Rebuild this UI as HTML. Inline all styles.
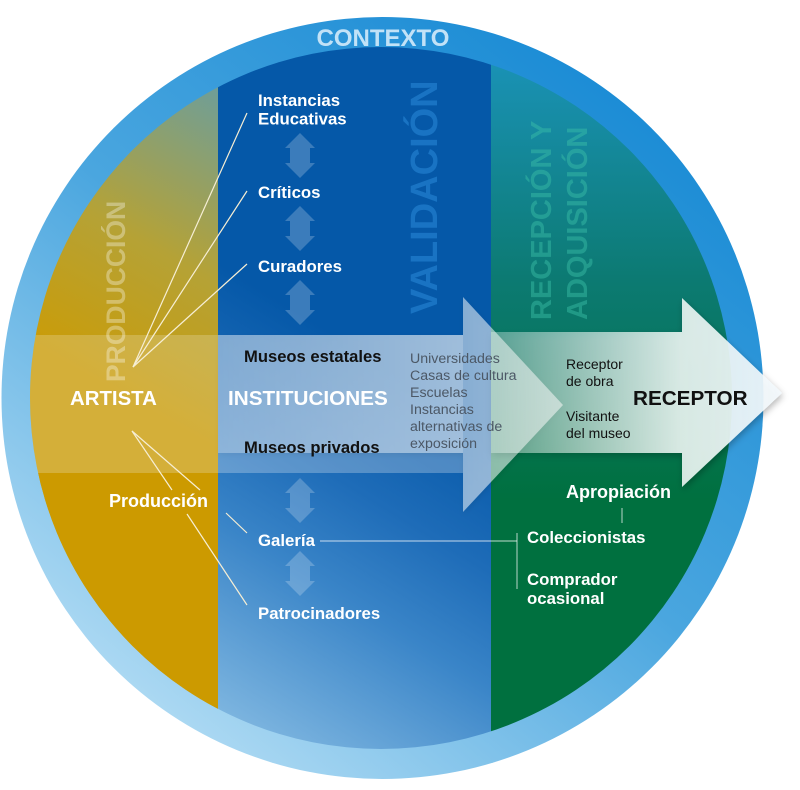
<!DOCTYPE html>
<html>
<head>
<meta charset="utf-8">
<style>
html,body{margin:0;padding:0;background:#fff;}
svg{display:block;}
text{font-family:"Liberation Sans",Arial,sans-serif;}
.b{font-weight:bold;}
</style>
</head>
<body>
<svg width="800" height="790" viewBox="0 0 800 790" xmlns="http://www.w3.org/2000/svg">
<defs>
  <linearGradient id="ring" x1="0.85" y1="0.05" x2="0.15" y2="0.95">
    <stop offset="0" stop-color="#1689d4"/>
    <stop offset="0.5" stop-color="#4aa6df"/>
    <stop offset="1" stop-color="#b8dff5"/>
  </linearGradient>
  <linearGradient id="gold" gradientUnits="userSpaceOnUse" x1="218" y1="80" x2="60" y2="360">
    <stop offset="0" stop-color="#6c9e9c"/>
    <stop offset="0.55" stop-color="#b5a236"/>
    <stop offset="1" stop-color="#ca9c08"/>
  </linearGradient>
  <linearGradient id="blue" gradientUnits="userSpaceOnUse" x1="440" y1="400" x2="230" y2="740">
    <stop offset="0" stop-color="#0558a8"/>
    <stop offset="0.3" stop-color="#1e6cb8"/>
    <stop offset="0.55" stop-color="#3a85c8"/>
    <stop offset="1" stop-color="#84bae2"/>
  </linearGradient>
  <linearGradient id="green" gradientUnits="userSpaceOnUse" x1="0" y1="60" x2="0" y2="500">
    <stop offset="0" stop-color="#1a92b6"/>
    <stop offset="0.5" stop-color="#0c7a72"/>
    <stop offset="1" stop-color="#00703f"/>
  </linearGradient>
  <linearGradient id="a1" gradientUnits="userSpaceOnUse" x1="218" y1="0" x2="563" y2="0">
    <stop offset="0" stop-color="#fff" stop-opacity="0.32"/>
    <stop offset="1" stop-color="#fff" stop-opacity="0.58"/>
  </linearGradient>
  <linearGradient id="a2" gradientUnits="userSpaceOnUse" x1="491" y1="0" x2="782" y2="0">
    <stop offset="0" stop-color="#f4fbf8" stop-opacity="0.3"/>
    <stop offset="0.65" stop-color="#f4fbf8" stop-opacity="0.86"/>
    <stop offset="1" stop-color="#f2f8fc" stop-opacity="0.92"/>
  </linearGradient>
  <clipPath id="inner"><circle cx="381" cy="398" r="351"/></clipPath>
  <filter id="sh" x="-20%" y="-30%" width="140%" height="160%">
    <feDropShadow dx="1" dy="3" stdDeviation="3.5" flood-color="#000" flood-opacity="0.3"/>
  </filter>
  <filter id="sh1" x="-20%" y="-30%" width="140%" height="160%">
    <feDropShadow dx="1" dy="2" stdDeviation="3" flood-color="#000" flood-opacity="0.15"/>
  </filter>
</defs>

<rect width="800" height="790" fill="#fff"/>
<circle cx="382.5" cy="398" r="381" fill="url(#ring)"/>

<g clip-path="url(#inner)">
  <rect x="0" y="0" width="218" height="790" fill="url(#gold)"/>
  <rect x="0" y="473" width="218" height="317" fill="#cc9a00"/>
  <rect x="218" y="0" width="273" height="790" fill="url(#blue)"/>
  <rect x="491" y="0" width="309" height="790" fill="url(#green)"/>

  <text class="b" transform="translate(125,382) rotate(-90)" font-size="26.5" fill="#fff" fill-opacity="0.33">PRODUCCIÓN</text>
  <text class="b" transform="translate(437,314) rotate(-90)" font-size="38" fill="#2a8ad8" fill-opacity="0.55">VALIDACIÓN</text>
  <text class="b" transform="translate(551,320) rotate(-90)" font-size="29" fill="#3cc0a8" fill-opacity="0.45">RECEPCIÓN Y</text>
  <text class="b" transform="translate(587,320) rotate(-90)" font-size="29" fill="#3cc0a8" fill-opacity="0.45">ADQUISICIÓN</text>

  <rect x="0" y="335" width="463" height="138" fill="#fff" fill-opacity="0.2"/>
  <rect x="218" y="453" width="245" height="20" fill="#fff" fill-opacity="0.08"/>
</g>

<!-- double arrows -->
<g fill="#fff" fill-opacity="0.22">
  <polygon points="300,133 315,148 310,148 310,163 315,163 300,178 285,163 290,163 290,148 285,148"/>
  <polygon points="300,206 315,221 310,221 310,236 315,236 300,251 285,236 290,236 290,221 285,221"/>
  <polygon points="300,280 315,295 310,295 310,310 315,310 300,325 285,310 290,310 290,295 285,295"/>
  <polygon points="300,478 315,493 310,493 310,508 315,508 300,523 285,508 290,508 290,493 285,493"/>
  <polygon points="300,551 315,566 310,566 310,581 315,581 300,596 285,581 290,581 290,566 285,566"/>
</g>

<!-- arrow 1 -->
<polygon points="218,335 463,335 463,297 563,405 463,512 463,453 218,453" fill="url(#a1)" filter="url(#sh1)"/>
<!-- arrow 2 -->
<polygon points="491,332 682,332 682,298 782,393 682,487 682,453 491,453" fill="url(#a2)" filter="url(#sh)"/>

<!-- connector lines -->
<g stroke="#f6eed4" stroke-width="1.2" fill="none">
  <line x1="133" y1="367" x2="247" y2="113"/>
  <line x1="133" y1="367" x2="247" y2="191"/>
  <line x1="133" y1="367" x2="247" y2="264"/>
  <line x1="132" y1="431" x2="172" y2="490"/>
  <line x1="132" y1="431" x2="200" y2="490"/>
  <line x1="187" y1="514" x2="247" y2="605"/>
  <line x1="226" y1="513" x2="247" y2="533"/>
</g>
<g stroke="#fff" stroke-opacity="0.6" stroke-width="1.2" fill="none">
  <line x1="320" y1="541" x2="517" y2="541"/>
  <line x1="517" y1="533" x2="517" y2="589"/>
  <line x1="622" y1="508" x2="622" y2="523"/>
</g>

<!-- ring label -->
<text class="b" x="383" y="46" font-size="24" fill="#c2e2f7" text-anchor="middle">CONTEXTO</text>

<!-- validation column labels -->
<g class="b" font-size="16.8" fill="#fff">
  <text x="258" y="106">Instancias</text>
  <text x="258" y="124.5">Educativas</text>
  <text x="258" y="198">Críticos</text>
  <text x="258" y="272">Curadores</text>
  <text x="258" y="546">Galería</text>
  <text x="258" y="619">Patrocinadores</text>
</g>
<g class="b" font-size="16.6" fill="#111">
  <text x="244" y="362">Museos estatales</text>
  <text x="244" y="453">Museos privados</text>
</g>
<text class="b" x="228" y="405" font-size="20.7" fill="#fff">INSTITUCIONES</text>
<text class="b" x="70" y="405" font-size="20.4" fill="#fff">ARTISTA</text>
<text class="b" x="109" y="507" font-size="18" fill="#fff">Producción</text>

<g font-size="14.2" fill="#4c5866">
  <text x="410" y="363">Universidades</text>
  <text x="410" y="380">Casas de cultura</text>
  <text x="410" y="397">Escuelas</text>
  <text x="410" y="414">Instancias</text>
  <text x="410" y="431">alternativas de</text>
  <text x="410" y="448">exposición</text>
</g>

<g font-size="14" fill="#111">
  <text x="566" y="369">Receptor</text>
  <text x="566" y="386">de obra</text>
  <text x="566" y="421">Visitante</text>
  <text x="566" y="438">del museo</text>
</g>
<text class="b" x="633" y="405" font-size="20.7" fill="#111">RECEPTOR</text>

<text class="b" x="566" y="498" font-size="18" fill="#fff">Apropiación</text>
<g class="b" font-size="16.8" fill="#fff">
  <text x="527" y="543">Coleccionistas</text>
  <text x="527" y="585">Comprador</text>
  <text x="527" y="604">ocasional</text>
</g>
</svg>
</body>
</html>
